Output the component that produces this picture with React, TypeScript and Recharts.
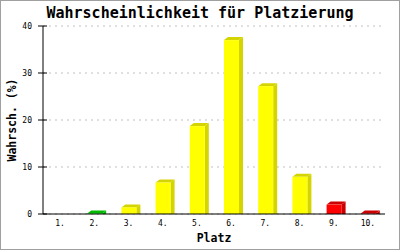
import React from 'react';
import { BarChart, Bar, XAxis, YAxis, CartesianGrid } from 'recharts';

const places = ['1.', '2.', '3.', '4.', '5.', '6.', '7.', '8.', '9.', '10.'];
const probabilities = [0, 0.1, 1.4, 6.7, 18.7, 37.0, 27.2, 7.9, 2.0, 0.1];
const yTicks = [0, 10, 20, 30, 40];

const title = 'Wahrscheinlichkeit für Platzierung';
const xTitle = 'Platz';
const yTitle = 'Wahrsch. (%)';

const faceColors = ['#00dd00', '#00dd00', '#ffff00', '#ffff00', '#ffff00', '#ffff00', '#ffff00', '#ffff00', '#ff0000', '#ff0000'];
const sideColors = ['#00bb00', '#00bb00', '#d4d400', '#d4d400', '#d4d400', '#d4d400', '#d4d400', '#d4d400', '#cc0000', '#cc0000'];

const data = places.map((place, i) => ({ place, prob: probabilities[i] }));

const MONO = '"DejaVu Sans Mono", "Liberation Mono", monospace';

const Bar3D = (props: any) => {
  const { x, y, width, height, payload } = props;
  const i = places.indexOf(payload.place);
  if (!payload.prob) return null;
  const d = 4;
  const u = 3;
  const face = faceColors[i];
  const side = sideColors[i];
  return (
    <g>
      <polygon
        points={`${x + width},${y} ${x + width + d},${y - u} ${x + width + d},${y + height} ${x + width},${y + height}`}
        fill={side}
      />
      <polygon
        points={`${x},${y} ${x + d},${y - u} ${x + width + d},${y - u} ${x + width},${y}`}
        fill={side}
      />
      <rect x={x} y={y} width={width} height={height} fill={face} />
    </g>
  );
};

const YTick = (p: any) => (
  <g>
    <line x1={p.x - 5} x2={p.x + 4} y1={p.y} y2={p.y} stroke="#000" />
    <text x={p.x - 11} y={p.y} dy={3} textAnchor="end" fontSize={8} fontFamily={MONO} fill="#000">
      {p.payload.value}
    </text>
  </g>
);

const XTick = (p: any) => (
  <text x={p.x} y={p.y + 12} textAnchor="middle" fontSize={8} fontFamily={MONO} fill="#000">
    {p.payload.value}
  </text>
);

export default function App() {
  return (
    <div style={{ position: 'absolute', left: 0, top: 0, width: 400, height: 250, background: '#fff' }}>
      <BarChart
        width={400}
        height={250}
        data={data}
        margin={{ top: 26, right: 15, left: 0, bottom: 0 }}
        barCategoryGap={0}
      >
        <CartesianGrid yAxisId="l" vertical={false} strokeDasharray="2 4" stroke="#c0c0c0" />
        <XAxis
          dataKey="place"
          height={36}
          tickSize={0}
          tickMargin={0}
          tickLine={false}
          axisLine={{ stroke: '#000' }}
          tick={XTick}
          interval={0}
        />
        <YAxis
          yAxisId="l"
          width={43}
          domain={[0, 40]}
          ticks={yTicks}
          tickSize={0}
          tickMargin={0}
          tickLine={false}
          axisLine={{ stroke: '#000' }}
          tick={YTick}
        />
        <YAxis
          yAxisId="r"
          orientation="right"
          width={0}
          domain={[0, 40]}
          tick={false}
          tickLine={false}
          axisLine={{ stroke: '#000' }}
        />
        <Bar yAxisId="l" dataKey="prob" barSize={15} shape={Bar3D} isAnimationActive={false} />
      </BarChart>
      <svg
        width={400}
        height={250}
        style={{ position: 'absolute', left: 0, top: 0, pointerEvents: 'none' }}
      >
        <rect x={0.5} y={0.5} width={399} height={249} fill="none" stroke="#a0a0a0" />
        <text x={200} y={18} textAnchor="middle" fontSize={15} fontWeight="bold" fontFamily={MONO} fill="#000">
          {title}
        </text>
        <text x={214} y={242} textAnchor="middle" fontSize={11.5} fontWeight="bold" fontFamily={MONO} fill="#000">
          {xTitle}
        </text>
        <text
          x={16}
          y={120}
          transform="rotate(-90 16 120)"
          textAnchor="middle"
          fontSize={11.5}
          fontWeight="bold"
          fontFamily={MONO}
          fill="#000"
        >
          {yTitle}
        </text>
      </svg>
    </div>
  );
}
